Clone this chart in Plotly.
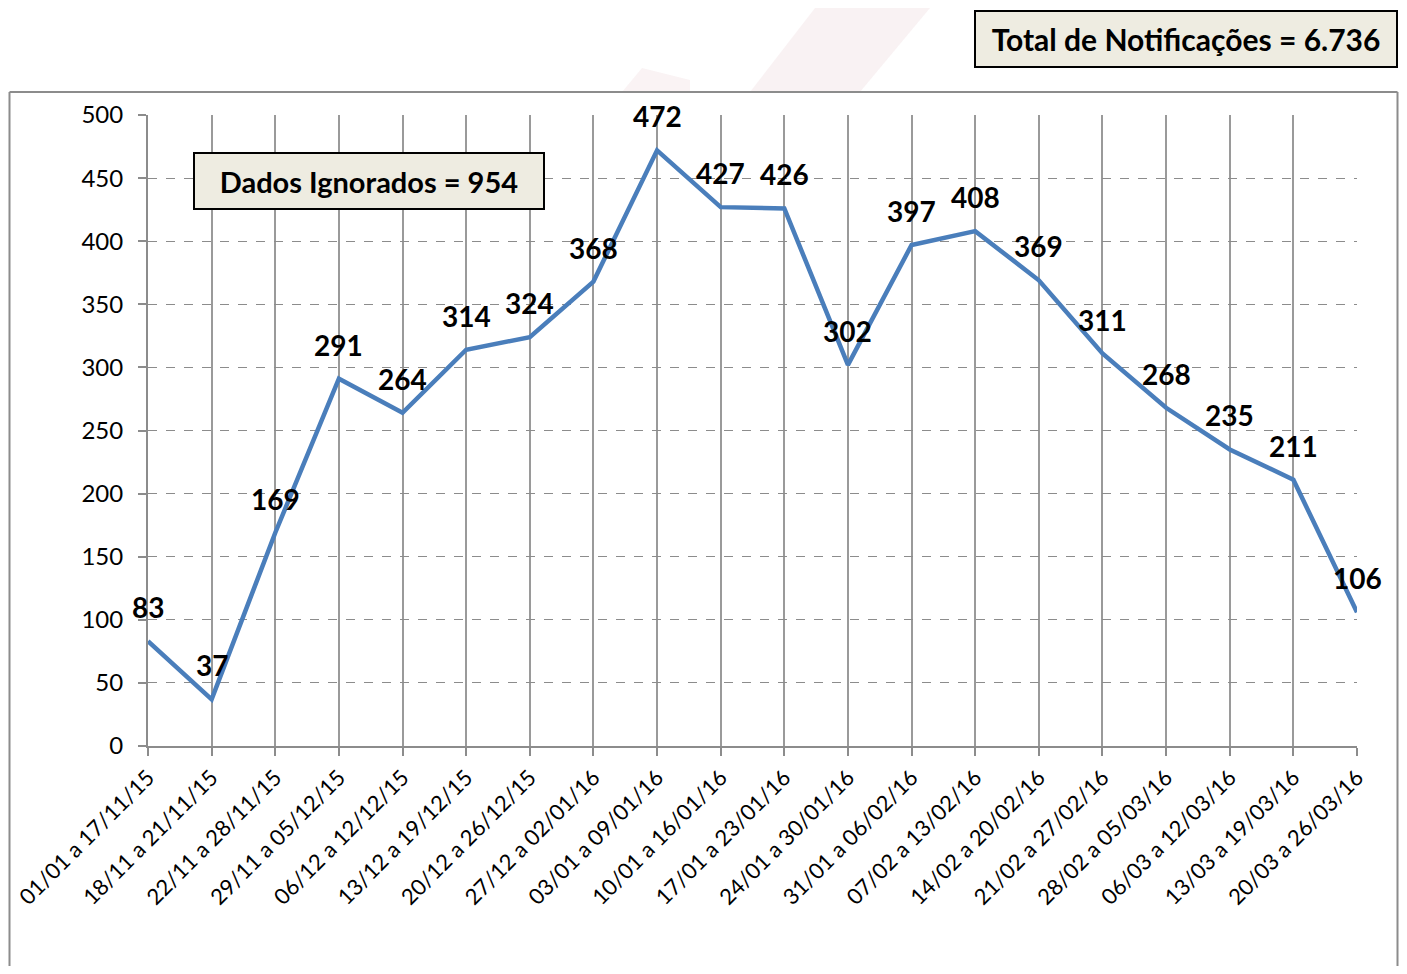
import plotly.graph_objects as go

categories = ["01/01 a 17/11/15", "18/11 a 21/11/15", "22/11 a 28/11/15", "29/11 a 05/12/15",
              "06/12 a 12/12/15", "13/12 a 19/12/15", "20/12 a 26/12/15", "27/12 a 02/01/16",
              "03/01 a 09/01/16", "10/01 a 16/01/16", "17/01 a 23/01/16", "24/01 a 30/01/16",
              "31/01 a 06/02/16", "07/02 a 13/02/16", "14/02 a 20/02/16", "21/02 a 27/02/16",
              "28/02 a 05/03/16", "06/03 a 12/03/16", "13/03 a 19/03/16", "20/03 a 26/03/16"]
values = [83, 37, 169, 291, 264, 314, 324, 368, 472, 427, 426, 302, 397, 408, 369, 311, 268, 235, 211, 106]
y_ticks = [0, 50, 100, 150, 200, 250, 300, 350, 400, 450, 500]

FONT = "Lato"
OFF = 8  # page body margin
W, H = 1407 - 2 * OFF, 974 - 2 * OFF
L, T = 148 - OFF, 115 - OFF
PW, PH = 1357 - 148, 746 - 115
R, B = W - L - PW, H - T - PH

def px(x):
    return (x - OFF - L) / PW

def py(y):
    return (T + PH - (y - OFF)) / PH

fig = go.Figure()
fig.add_trace(go.Scatter(
    x=categories, y=values, mode="lines",
    line=dict(color="#4a7ebb", width=4.5),
    cliponaxis=False, showlegend=False, hoverinfo="x+y",
))

for c, v in zip(categories, values):
    fig.add_annotation(x=c, y=v, text=str(v), showarrow=False, yshift=34,
                       font=dict(family=FONT, size=28, color="black", weight="bold"))

shapes = [
    # faint decorative background
    dict(type="path", xref="paper", yref="paper", layer="below",
         path=f"M {px(750)} {py(92)} L {px(815)} {py(8)} L {px(930)} {py(8)} L {px(860)} {py(92)} Z",
         fillcolor="rgba(225,190,195,0.2)", line=dict(width=0)),
    dict(type="path", xref="paper", yref="paper", layer="below",
         path=f"M {px(622)} {py(92)} L {px(642)} {py(68)} L {px(690)} {py(80)} L {px(690)} {py(92)} Z",
         fillcolor="rgba(225,190,195,0.18)", line=dict(width=0)),
]
fig.update_layout(shapes=shapes)

# chart frame (drawn as separate edges so each stays inside the figure)
frame_edges = [((9.5, 92), (1397.5, 92)), ((9.5, 92), (9.5, 966)), ((1397.5, 92), (1397.5, 966))]
for (xa, ya), (xb, yb) in frame_edges:
    fig.add_shape(type="line", xref="paper", yref="paper", layer="below",
                  x0=px(xa), y0=py(ya), x1=px(xb), y1=py(yb),
                  line=dict(color="#8c8c8c", width=2))

fig.add_annotation(xref="paper", yref="paper", x=px(1186), y=py(39), text="Total de Notificações = 6.736",
                   showarrow=False, bgcolor="#eeece1", bordercolor="black", borderwidth=2,
                   width=418, height=52, xanchor="center", yanchor="middle",
                   font=dict(family=FONT, size=30, color="black", weight="bold"))
fig.add_annotation(xref="paper", yref="paper", x=px(369), y=py(181), text="Dados Ignorados = 954",
                   showarrow=False, bgcolor="#eeece1", bordercolor="black", borderwidth=2,
                   width=346, height=52, xanchor="center", yanchor="middle",
                   font=dict(family=FONT, size=29, color="black", weight="bold"))

fig.update_layout(
    width=W, height=H,
    margin=dict(l=L, r=R, t=T, b=B, autoexpand=False),
    paper_bgcolor="white", plot_bgcolor="rgba(0,0,0,0)",
    xaxis=dict(type="category", range=[0, len(categories) - 1], tickangle=-45,
               showgrid=True, gridcolor="#9a9a9a", gridwidth=2,
               showline=True, linecolor="#8c8c8c", linewidth=2,
               ticks="outside", ticklen=8, tickwidth=2, tickcolor="#8c8c8c",
               tickfont=dict(family=FONT, size=22, color="black"), fixedrange=True),
    yaxis=dict(range=[0, 500], tickvals=y_ticks,
               showgrid=True, gridcolor="#8c8c8c", gridwidth=1, griddash="dash",
               showline=True, linecolor="#8c8c8c", linewidth=2,
               ticks="outside", ticklen=8, tickwidth=2, tickcolor="#8c8c8c",
               ticklabelstandoff=10,
               tickfont=dict(family=FONT, size=24, color="black"), zeroline=False),
)

fig.write_html("out.html")
